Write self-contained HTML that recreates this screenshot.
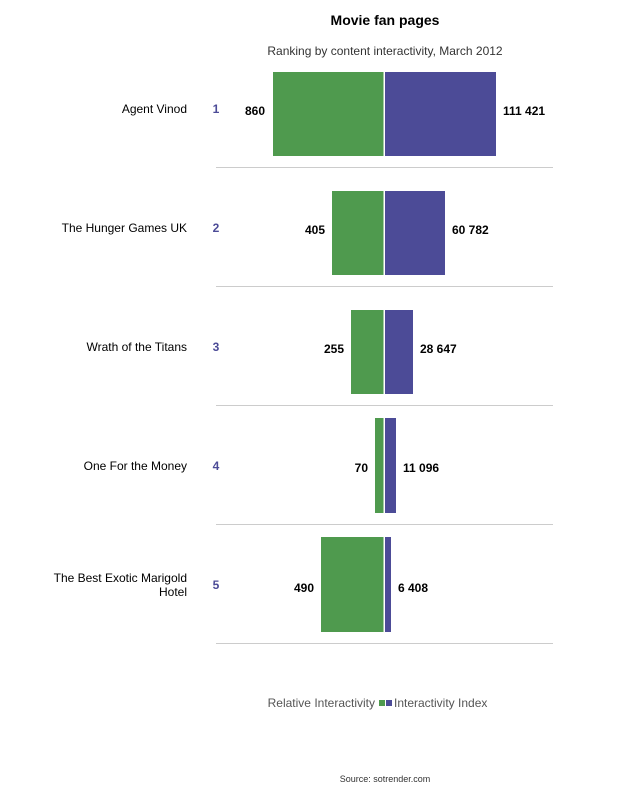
<!DOCTYPE html><html><head><style>body{margin:0;background:#fff}</style></head><body>
<svg width="625" height="800" xmlns="http://www.w3.org/2000/svg" font-family="Liberation Sans, sans-serif">
<rect width="625" height="800" fill="#fff"/>
<text x="385" y="25" font-size="14" font-weight="bold" text-anchor="middle">Movie fan pages</text>
<text x="385" y="55" font-size="12" fill="#333" text-anchor="middle">Ranking by content interactivity, March 2012</text>
<g font-size="12">
<!-- rows -->
<g>
<rect x="273" y="72" width="110.5" height="84" fill="#4f9a4e"/><rect x="385" y="72" width="111" height="84" fill="#4c4b97"/>
<line x1="216" y1="167.5" x2="553" y2="167.5" stroke="#ccc"/>
<text x="187" y="113" text-anchor="end">Agent Vinod</text><text x="216" y="113" text-anchor="middle" fill="#4c4b97" font-weight="bold">1</text>
<text x="265" y="115" text-anchor="end" font-weight="bold">860</text><text x="503" y="115" font-weight="bold">111 421</text>
</g>
<g>
<rect x="332" y="191" width="51.5" height="84" fill="#4f9a4e"/><rect x="385" y="191" width="60" height="84" fill="#4c4b97"/>
<line x1="216" y1="286.5" x2="553" y2="286.5" stroke="#ccc"/>
<text x="187" y="232" text-anchor="end">The Hunger Games UK</text><text x="216" y="232" text-anchor="middle" fill="#4c4b97" font-weight="bold">2</text>
<text x="325" y="234" text-anchor="end" font-weight="bold">405</text><text x="452" y="234" font-weight="bold">60 782</text>
</g>
<g>
<rect x="351" y="310" width="32.5" height="84" fill="#4f9a4e"/><rect x="385" y="310" width="28" height="84" fill="#4c4b97"/>
<line x1="216" y1="405.5" x2="553" y2="405.5" stroke="#ccc"/>
<text x="187" y="351" text-anchor="end">Wrath of the Titans</text><text x="216" y="351" text-anchor="middle" fill="#4c4b97" font-weight="bold">3</text>
<text x="344" y="353" text-anchor="end" font-weight="bold">255</text><text x="420" y="353" font-weight="bold">28 647</text>
</g>
<g>
<rect x="375" y="418" width="8.5" height="95" fill="#4f9a4e"/><rect x="385" y="418" width="11" height="95" fill="#4c4b97"/>
<line x1="216" y1="524.5" x2="553" y2="524.5" stroke="#ccc"/>
<text x="187" y="470" text-anchor="end">One For the Money</text><text x="216" y="470" text-anchor="middle" fill="#4c4b97" font-weight="bold">4</text>
<text x="368" y="472" text-anchor="end" font-weight="bold">70</text><text x="403" y="472" font-weight="bold">11 096</text>
</g>
<g>
<rect x="321" y="537" width="62.5" height="95" fill="#4f9a4e"/><rect x="385" y="537" width="6" height="95" fill="#4c4b97"/>
<line x1="216" y1="643.5" x2="553" y2="643.5" stroke="#ccc"/>
<text x="187" y="582" text-anchor="end">The Best Exotic Marigold</text><text x="187" y="596" text-anchor="end">Hotel</text>
<text x="216" y="589" text-anchor="middle" fill="#4c4b97" font-weight="bold">5</text>
<text x="314" y="592" text-anchor="end" font-weight="bold">490</text><text x="398" y="592" font-weight="bold">6 408</text>
</g>
</g>
<text x="375" y="707" font-size="12" fill="#555" text-anchor="end">Relative Interactivity</text>
<rect x="379" y="700" width="6" height="6" fill="#4f9a4e"/><rect x="386" y="700" width="6" height="6" fill="#4c4b97"/>
<text x="394" y="707" font-size="12" fill="#555">Interactivity Index</text>
<text x="385" y="782" font-size="9" fill="#333" text-anchor="middle">Source: sotrender.com</text>
</svg></body></html>
